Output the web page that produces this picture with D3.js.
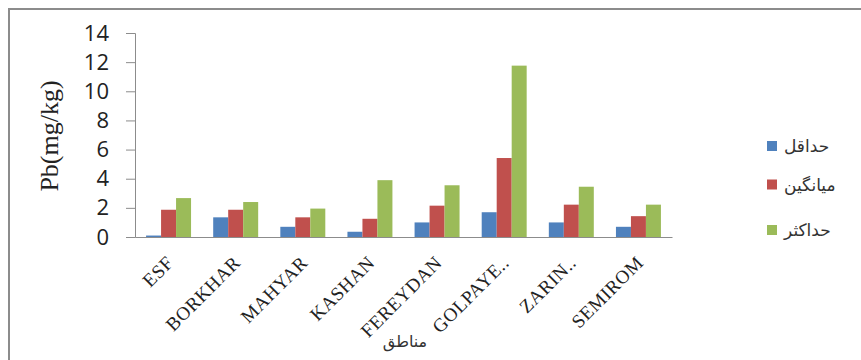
<!DOCTYPE html>
<html>
<head>
<meta charset="utf-8">
<script src="https://cdn.jsdelivr.net/npm/d3@7"></script>
<style>
  body { margin: 0; background: #fff; }
  svg { display: block; }
</style>
</head>
<body>
<svg id="chart" width="861" height="360"></svg>
<script>
// مناطق
const regions = ['ESF', 'BORKHAR', 'MAHYAR', 'KASHAN', 'FEREYDAN', 'GOLPAYE..', 'ZARIN..', 'SEMIROM'];
const seriesNames = ['حداقل', 'میانگین', 'حداکثر'];
const minVals = [0.1, 1.35, 0.7, 0.36, 1.0, 1.7, 1.0, 0.7];
const meanVals = [1.87, 1.87, 1.35, 1.25, 2.15, 5.42, 2.22, 1.43];
const maxVals = [2.67, 2.4, 1.95, 3.9, 3.55, 11.76, 3.45, 2.22];
const yTicks = [0, 2, 4, 6, 8, 10, 12, 14];
const colors = ['#4F81BD', '#C0504D', '#9BBB59'];

const series = [minVals, meanVals, maxVals];

const svg = d3.select('#chart');

// frame
svg.append('path')
    .attr('d', 'M9,360 V9 H861')
    .attr('fill', 'none')
    .attr('stroke', '#8c8c8c')
    .attr('stroke-width', 2);

const plotL = 135, plotR = 672, plotT = 33, plotB = 237;

const x = d3.scaleBand()
    .domain(regions)
    .range([plotL, plotR])
    .paddingInner(0.33)
    .paddingOuter(0.165);

const xs = d3.scaleBand()
    .domain(d3.range(3))
    .range([0, x.bandwidth()]);

const y = d3.scaleLinear()
    .domain([0, 14])
    .range([plotB, plotT]);

// y axis
const yAxis = svg.append('g')
    .attr('transform', `translate(${plotL},0)`)
    .call(d3.axisLeft(y).tickValues(yTicks).tickSize(9).tickPadding(17));
yAxis.select('.domain').attr('stroke', '#8c8c8c');
yAxis.selectAll('.tick line').attr('stroke', '#8c8c8c');
yAxis.selectAll('.tick text')
    .attr('font-family', '"Open Sans", "Liberation Sans", sans-serif')
    .attr('font-size', 22)
    .attr('fill', '#222');

// bars
const groups = svg.selectAll('.grp')
    .data(regions)
    .enter()
    .append('g')
    .attr('class', 'grp')
    .attr('transform', d => `translate(${x(d)},0)`);

groups.selectAll('rect')
    .data((d, i) => series.map((s, k) => ({ k: k, v: s[i] })))
    .enter()
    .append('rect')
    .attr('x', d => xs(d.k))
    .attr('y', d => y(d.v))
    .attr('width', xs.bandwidth())
    .attr('height', d => y(0) - y(d.v))
    .attr('fill', d => colors[d.k]);

// x axis line
const xAxis = svg.append('g')
    .attr('transform', `translate(0,${plotB})`)
    .call(d3.axisBottom(x).tickSize(0).tickFormat(''));
xAxis.select('.domain').attr('stroke', '#8c8c8c');

// x labels, rotated
svg.selectAll('.xlab')
    .data(regions)
    .enter()
    .append('text')
    .attr('class', 'xlab')
    .attr('transform', d => `translate(${x(d) + x.bandwidth() / 2 + 6},${plotB + 27}) rotate(-45)`)
    .attr('text-anchor', 'end')
    .attr('font-family', '"Liberation Serif", "Times New Roman", serif')
    .attr('font-size', 19)
    .attr('letter-spacing', 0.5)
    .attr('fill', '#222')
    .text(d => d);

// axis titles
svg.append('text')
    .attr('transform', 'translate(58,136) rotate(-90)')
    .attr('text-anchor', 'middle')
    .attr('font-family', '"Liberation Serif", "Times New Roman", serif')
    .attr('font-size', 26)
    .attr('fill', '#222')
    .text('Pb(mg/kg)');

svg.append('text')
    .attr('x', 405)
    .attr('y', 347)
    .attr('text-anchor', 'middle')
    .attr('font-family', '"DejaVu Sans", sans-serif')
    .attr('font-size', 16)
    .attr('fill', '#333')
    .text('مناطق');

// legend
const legendY = [146, 184.5, 230];
const legend = svg.selectAll('.leg')
    .data(seriesNames)
    .enter()
    .append('g')
    .attr('class', 'leg')
    .attr('transform', (d, i) => `translate(767,${legendY[i]})`);

legend.append('rect')
    .attr('x', 0)
    .attr('y', -5)
    .attr('width', 10)
    .attr('height', 10)
    .attr('fill', (d, i) => colors[i]);

legend.append('text')
    .attr('x', 17)
    .attr('y', 6)
    .attr('font-family', '"DejaVu Sans", sans-serif')
    .attr('font-size', 17)
    .attr('fill', '#333')
    .text(d => d);
</script>
</body>
</html>
